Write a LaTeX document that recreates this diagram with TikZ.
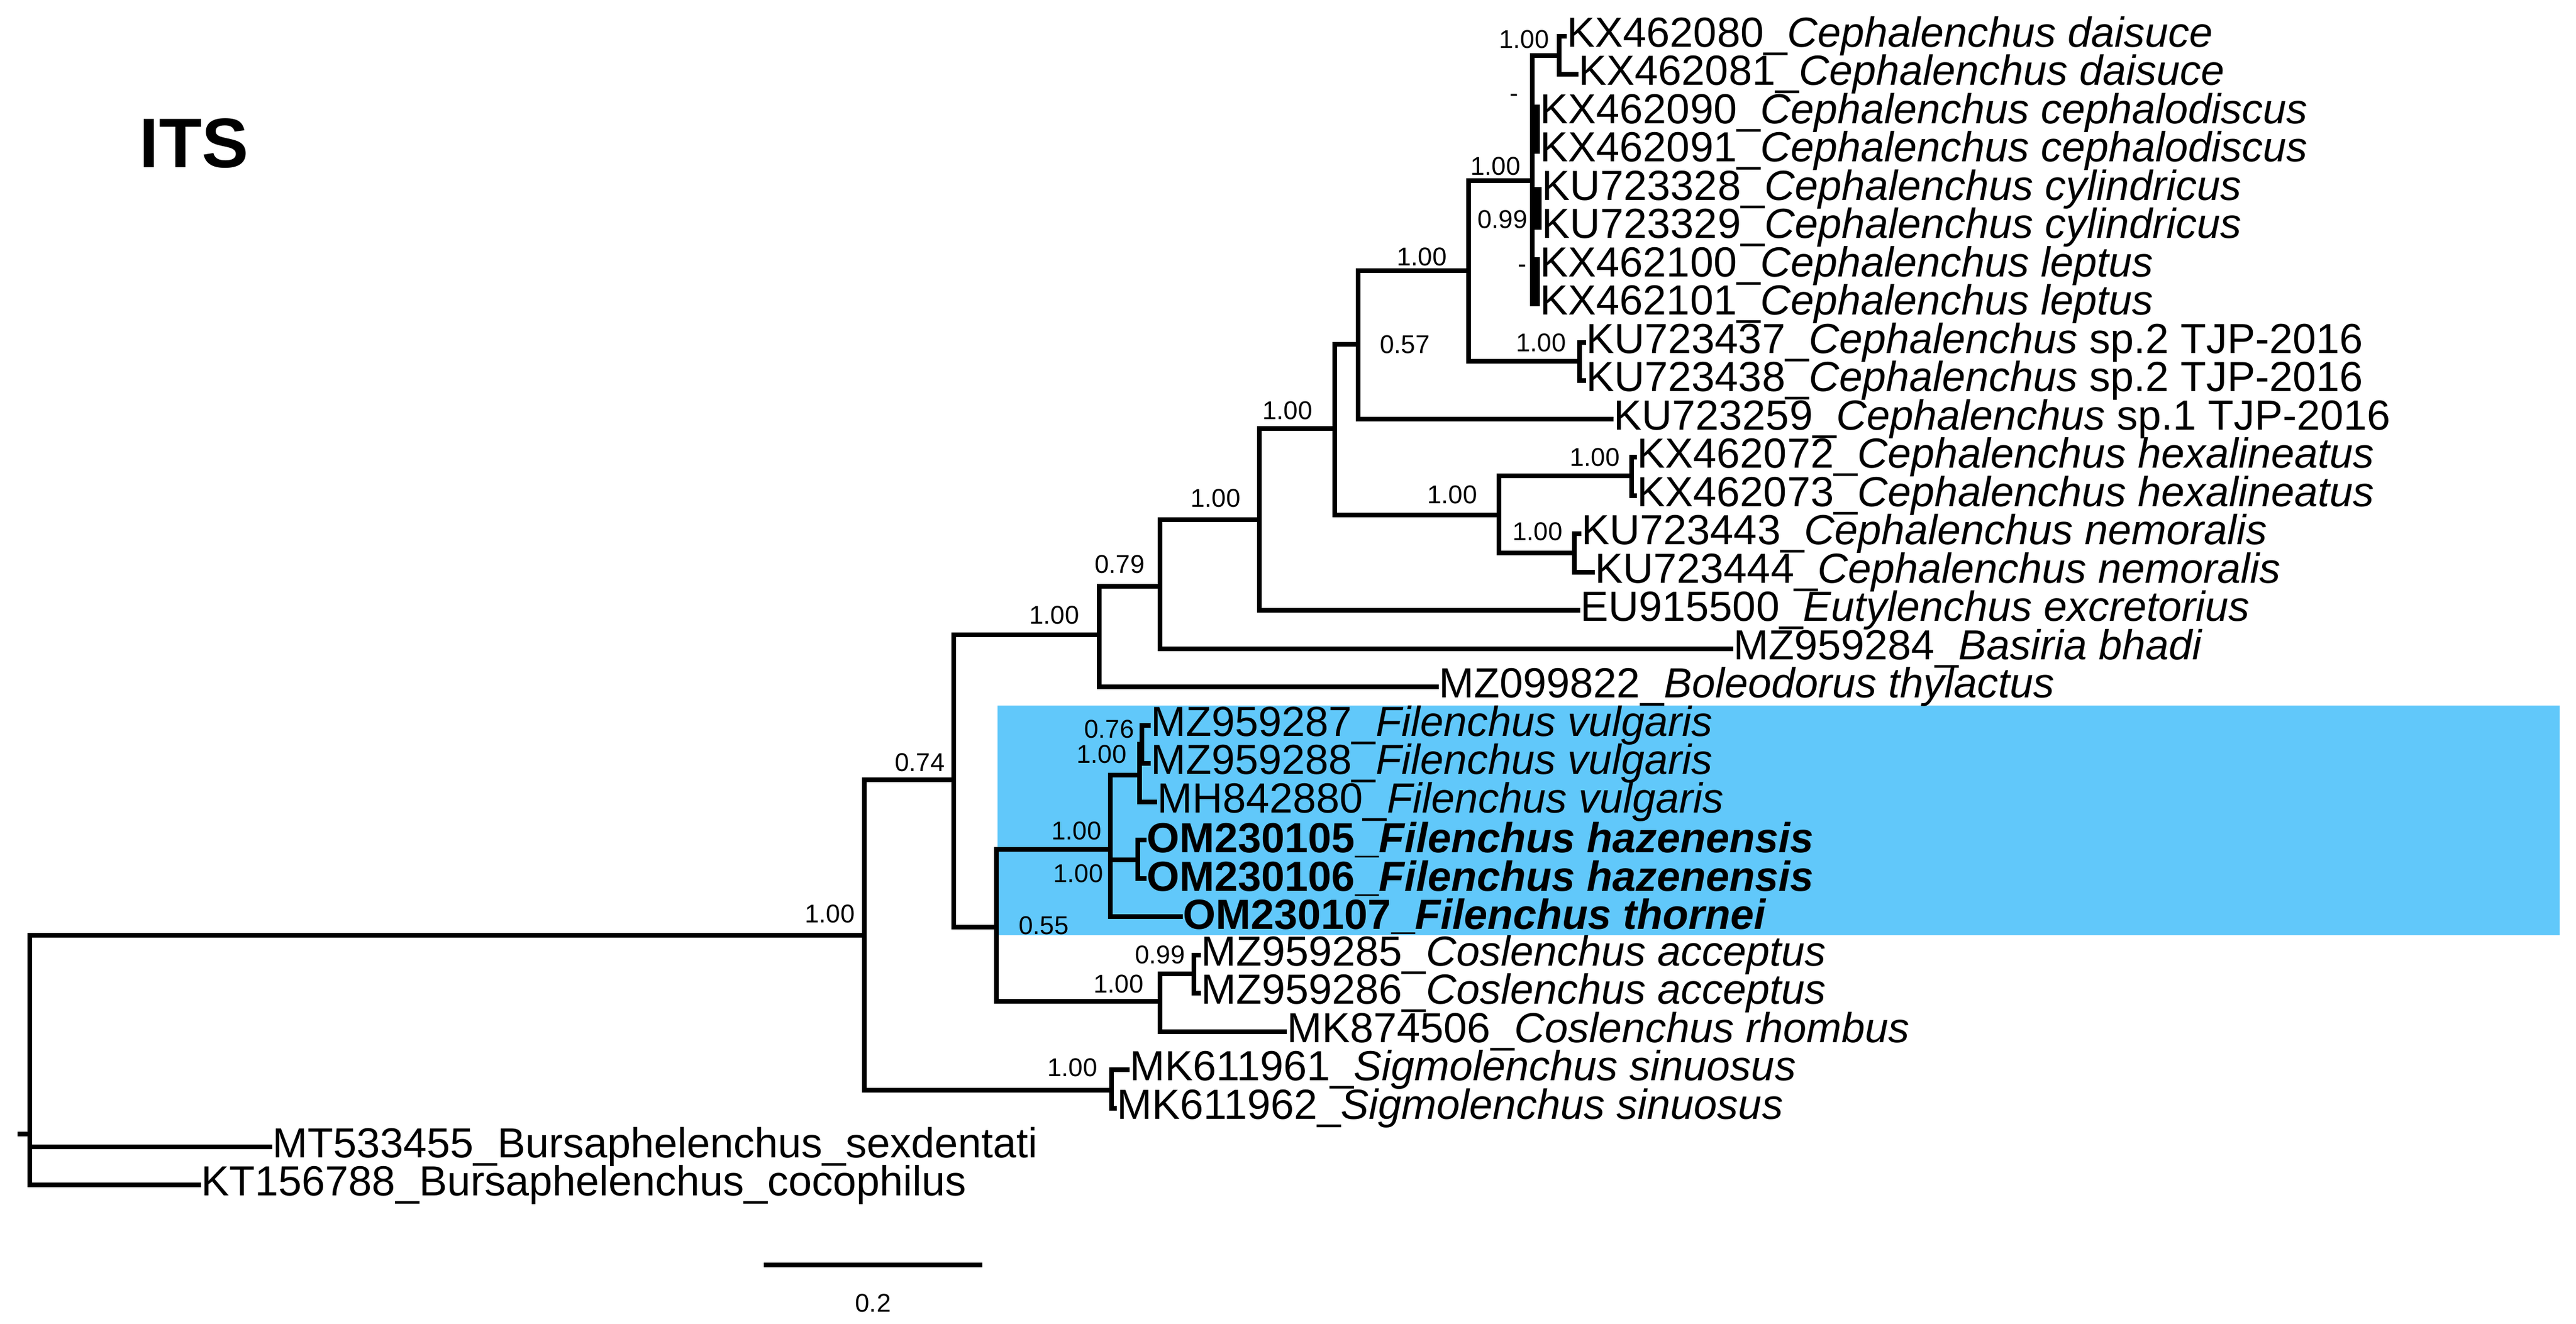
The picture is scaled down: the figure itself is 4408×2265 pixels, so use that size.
\documentclass[tikz,border=0pt]{standalone}
\usepackage{fontspec}
\setmainfont{Liberation Sans}
\begin{document}
\begin{tikzpicture}[x=0.25pt,y=-0.25pt,
  br/.style={line width=2pt,line cap=rect},
  leaf/.style={anchor=west,inner sep=1pt,font=\fontsize{18}{19}\selectfont},
  bs/.style={inner sep=0pt,font=\fontsize{11}{12}\selectfont},
  ]
\useasboundingbox (0,0) rectangle (4408,2265);
\fill[fill={rgb,255:red,97;green,200;blue,250}] (1707,1207) rectangle (4380,1600);
\node[font=\fontsize{30}{32}\selectfont\bfseries] (title) at (332,245) {ITS};
% internal nodes
\coordinate (R) at (51,1940);
\coordinate (A) at (1479,1600);
\coordinate (B) at (1632,1334);
\coordinate (Sg) at (1902,1865);
\coordinate (C) at (1881,1086);
\coordinate (N55) at (1705,1586);
\coordinate (D) at (1985,1003);
\coordinate (E) at (2155,889);
\coordinate (F) at (2284,733);
\coordinate (G) at (2324,589);
\coordinate (J) at (2565,881);
\coordinate (H) at (2513,463);
\coordinate (I) at (2622,309);
\coordinate (Q) at (2668,95);
\coordinate (P) at (2703,618);
\coordinate (K) at (2792,814);
\coordinate (L) at (2694,946);
\coordinate (Fi) at (1900,1453);
\coordinate (Co) at (1985,1713);
\coordinate (V) at (1950,1326);
\coordinate (V2) at (1954,1273);
\coordinate (OM) at (1947,1471);
\coordinate (Co2) at (2043,1666);
\coordinate (rs) at (34,1940);
% leaves
\node[leaf] (t1) at (2677,62) {KX462080\_\textit{Cephalenchus daisuce}};
\node[leaf] (t2) at (2697,127) {KX462081\_\textit{Cephalenchus daisuce}};
\node[leaf] (t3) at (2631,193) {KX462090\_\textit{Cephalenchus cephalodiscus}};
\node[leaf] (t4) at (2631,258) {KX462091\_\textit{Cephalenchus cephalodiscus}};
\node[leaf] (t5) at (2634,324) {KU723328\_\textit{Cephalenchus cylindricus}};
\node[leaf] (t6) at (2634,389) {KU723329\_\textit{Cephalenchus cylindricus}};
\node[leaf] (t7) at (2631,455) {KX462100\_\textit{Cephalenchus leptus}};
\node[leaf] (t8) at (2631,520) {KX462101\_\textit{Cephalenchus leptus}};
\node[leaf] (t9) at (2710,586) {KU723437\_\textit{Cephalenchus} sp.2 TJP-2016};
\node[leaf] (t10) at (2710,651) {KU723438\_\textit{Cephalenchus} sp.2 TJP-2016};
\node[leaf] (t11) at (2757,717) {KU723259\_\textit{Cephalenchus} sp.1 TJP-2016};
\node[leaf] (t12) at (2797,782) {KX462072\_\textit{Cephalenchus hexalineatus}};
\node[leaf] (t13) at (2797,848) {KX462073\_\textit{Cephalenchus hexalineatus}};
\node[leaf] (t14) at (2702,913) {KU723443\_\textit{Cephalenchus nemoralis}};
\node[leaf] (t15) at (2725,979) {KU723444\_\textit{Cephalenchus nemoralis}};
\node[leaf] (t16) at (2700,1044) {EU915500\_\textit{Eutylenchus excretorius}};
\node[leaf] (t17) at (2962,1110) {MZ959284\_\textit{Basiria bhadi}};
\node[leaf] (t18) at (2458,1175) {MZ099822\_\textit{Boleodorus thylactus}};
\node[leaf] (t19) at (1965,1241) {MZ959287\_\textit{Filenchus vulgaris}};
\node[leaf] (t20) at (1965,1306) {MZ959288\_\textit{Filenchus vulgaris}};
\node[leaf] (t21) at (1976,1372) {MH842880\_\textit{Filenchus vulgaris}};
\node[leaf,font=\fontsize{18}{19}\selectfont\bfseries] (t22) at (1958,1437) {OM230105\_\textit{Filenchus hazenensis}};
\node[leaf,font=\fontsize{18}{19}\selectfont\bfseries] (t23) at (1958,1503) {OM230106\_\textit{Filenchus hazenensis}};
\node[leaf,font=\fontsize{18}{19}\selectfont\bfseries] (t24) at (2020,1568) {OM230107\_\textit{Filenchus thornei}};
\node[leaf] (t25) at (2051,1634) {MZ959285\_\textit{Coslenchus acceptus}};
\node[leaf] (t26) at (2051,1699) {MZ959286\_\textit{Coslenchus acceptus}};
\node[leaf] (t27) at (2198,1765) {MK874506\_\textit{Coslenchus rhombus}};
\node[leaf] (t28) at (1929,1830) {MK611961\_\textit{Sigmolenchus sinuosus}};
\node[leaf] (t29) at (1907,1896) {MK611962\_\textit{Sigmolenchus sinuosus}};
\node[leaf] (t30) at (462,1962) {MT533455\_Bursaphelenchus\_sexdentati};
\node[leaf] (t31) at (340,2027) {KT156788\_Bursaphelenchus\_cocophilus};
% branches
\draw[br] (rs) -- (R);
\draw[br] (R) |- (A); \draw[br] (R) |- (t30.west); \draw[br] (R) |- (t31.west);
\draw[br] (A) |- (B); \draw[br] (A) |- (Sg);
\draw[br] (Sg) |- (t28.west); \draw[br] (Sg) |- (t29.west);
\draw[br] (B) |- (C); \draw[br] (B) |- (N55);
\draw[br] (C) |- (D); \draw[br] (C) |- (t18.west);
\draw[br] (D) |- (E); \draw[br] (D) |- (t17.west);
\draw[br] (E) |- (F); \draw[br] (E) |- (t16.west);
\draw[br] (F) |- (G); \draw[br] (F) |- (J);
\draw[br] (G) |- (H); \draw[br] (G) |- (t11.west);
\draw[br] (H) |- (I); \draw[br] (H) |- (P);
\draw[br] (I) |- (Q);
\draw[br] (Q) |- (t1.west); \draw[br] (Q) |- (t2.west);
\foreach \t in {t3,t4,t5,t6,t7,t8} \draw[br] (I) |- (\t.west);
\draw[line width=3.8pt] (2627,179) -- (2627,263);
\draw[line width=3.8pt] (2630,323) -- (2630,389);
\draw[line width=3.8pt] (2627,440) -- (2627,520);
\draw[br] (P) |- (t9.west); \draw[br] (P) |- (t10.west);
\draw[br] (J) |- (K); \draw[br] (J) |- (L);
\draw[br] (K) |- (t12.west); \draw[br] (K) |- (t13.west);
\draw[br] (L) |- (t14.west); \draw[br] (L) |- (t15.west);
\draw[br] (N55) |- (Fi); \draw[br] (N55) |- (Co);
\draw[br] (Fi) |- (V); \draw[br] (Fi) |- (OM); \draw[br] (Fi) |- (t24.west);
\draw[br] (V) |- (V2); \draw[br] (V) |- (t21.west);
\draw[br] (V2) |- (t19.west); \draw[br] (V2) |- (t20.west);
\draw[br] (OM) |- (t22.west); \draw[br] (OM) |- (t23.west);
\draw[br] (Co) |- (Co2); \draw[br] (Co) |- (t27.west);
\draw[br] (Co2) |- (t25.west); \draw[br] (Co2) |- (t26.west);
% support values
\node[bs] (s1) at (1420,1563) {1.00};
\node[bs] (s2) at (1574,1304) {0.74};
\node[bs] (s3) at (1804,1052) {1.00};
\node[bs] (s4) at (1916,965) {0.79};
\node[bs] (s5) at (2080,852) {1.00};
\node[bs] (s6) at (2203,702) {1.00};
\node[bs] (s7) at (2404,589) {0.57};
\node[bs] (s8) at (2433,439) {1.00};
\node[bs] (s9) at (2559,284) {1.00};
\node[bs] (s10) at (2608,67) {1.00};
\node[bs] (s11) at (2591,168) {-};
\node[bs] (s12) at (2571,375) {0.99};
\node[bs] (s13) at (2605,460) {-};
\node[bs] (s14) at (2637,586) {1.00};
\node[bs] (s15) at (2485,846) {1.00};
\node[bs] (s16) at (2729,782) {1.00};
\node[bs] (s17) at (2631,909) {1.00};
\node[bs] (s18) at (1898,1247) {0.76};
\node[bs] (s19) at (1885,1290) {1.00};
\node[bs] (s20) at (1842,1421) {1.00};
\node[bs] (s21) at (1845,1494) {1.00};
\node[bs] (s22) at (1786,1583) {0.55};
\node[bs] (s23) at (1985,1633) {0.99};
\node[bs] (s24) at (1914,1683) {1.00};
\node[bs] (s25) at (1835,1826) {1.00};
% scale bar
\coordinate (sb1) at (1307,2164);
\coordinate (sb2) at (1681,2164);
\draw[br,line cap=butt] (sb1) -- (sb2);
\node[bs] (sbl) at (1494,2229) {0.2};
\end{tikzpicture}
\end{document}
